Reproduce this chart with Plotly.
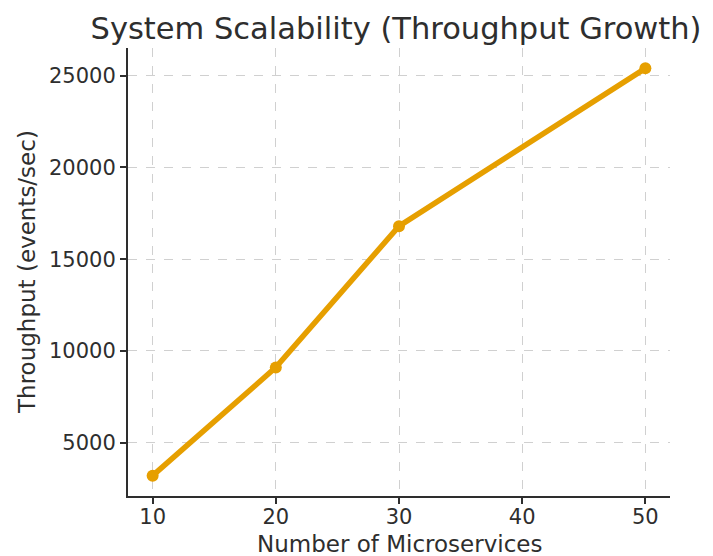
import plotly.graph_objects as go

microservices = [10, 20, 30, 50]
throughput = [3200, 9100, 16800, 25400]
x_ticks = [10, 20, 30, 40, 50]
y_ticks = [5000, 10000, 15000, 20000, 25000]
y_tick_labels = ["5000", "10000", "15000", "20000", "25000"]

# page is offset by the browser's default 8px body margin
OFF = 8
W, H = 713 - OFF, 556 - OFF
PL, PR, PT, PB = 128, 670, 48, 496  # plot area in page pixels
L, T = PL - OFF, PT - OFF
R, B = (W + OFF) - PR, (H + OFF) - PB
PW, PH = PR - PL, PB - PT

fig = go.Figure()
fig.add_trace(go.Scatter(
    x=microservices, y=throughput, mode="lines+markers",
    line=dict(color="#E69F00", width=5.5),
    marker=dict(color="#E69F00", size=12),
))

font = "DejaVu Sans"
txt = "#2e2e2e"
fig.update_layout(
    width=W, height=H,
    paper_bgcolor="white", plot_bgcolor="white",
    margin=dict(l=L, r=R, t=T, b=B, autoexpand=False),
    showlegend=False,
    title=dict(text="System Scalability (Throughput Growth)", x=(396 - OFF) / W, xanchor="center",
               xref="container", yref="container", y=1 - (28 - OFF) / H, yanchor="middle",
               font=dict(family=font, size=30.5, color=txt)),
    font=dict(family=font, color=txt),
)
axis_common = dict(
    showgrid=True, gridcolor="#d0d0d0", griddash="dash", gridwidth=1,
    showline=True, linecolor=txt, linewidth=2,
    ticks="outside", ticklen=6, tickwidth=1.5, tickcolor=txt,
    tickfont=dict(family=font, size=21, color=txt),
    zeroline=False, mirror=False, automargin=False,
)
fig.update_xaxes(range=[8, 52], tickvals=x_ticks, ticktext=[str(v) for v in x_ticks],
                 ticklabelstandoff=-5, **axis_common)
fig.update_yaxes(range=[2090, 26510], tickvals=y_ticks, ticktext=y_tick_labels, **axis_common)

fig.add_annotation(text="Number of Microservices", xref="paper", yref="paper",
                   x=(399 - PL) / PW, y=-(544 - PB) / PH,
                   xanchor="center", yanchor="middle", showarrow=False,
                   font=dict(family=font, size=23, color=txt))
fig.add_annotation(text="Throughput (events/sec)", xref="paper", yref="paper",
                   x=-(PL - 27) / PW, y=(PB - 272) / PH,
                   xanchor="center", yanchor="middle", showarrow=False, textangle=-90,
                   font=dict(family=font, size=23, color=txt))

fig.write_html("out.html")
